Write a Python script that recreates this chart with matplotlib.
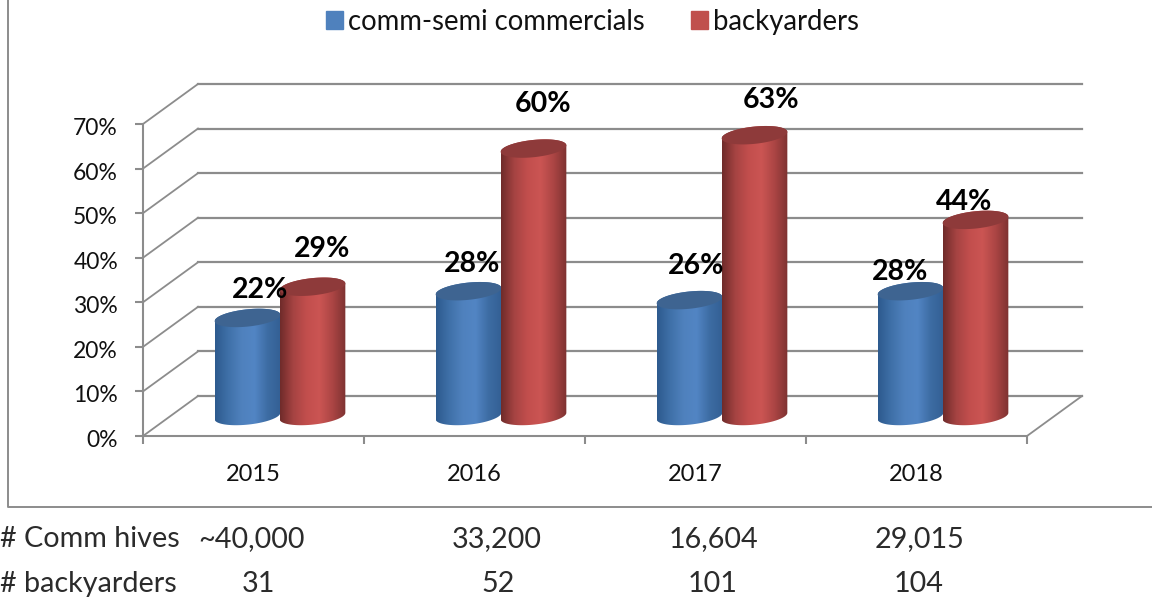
import numpy as np
import matplotlib
matplotlib.use('Agg')
import matplotlib.pyplot as plt
from matplotlib.colors import LinearSegmentedColormap
from matplotlib.lines import Line2D
from matplotlib.patches import Patch, PathPatch, Polygon
from matplotlib.path import Path
from matplotlib.transforms import ScaledTranslation

plt.rcParams['font.family'] = ['Lato', 'DejaVu Sans']

years = ['2015', '2016', '2017', '2018']
commercials = [22, 28, 26, 28]
backyarders = [29, 60, 63, 44]
comm_hives = ['~40,000', '33,200', '16,604', '29,015']
backyarder_counts = ['31', '52', '101', '104']
yticks = [0, 10, 20, 30, 40, 50, 60, 70]

W, H = 1152, 598
GREY = '#8c8c8c'
# axes box in pixels, y measured from the top
LEFT, RIGHT, TOP, BOTTOM = 143, 1027, 124, 436
PX_X = (RIGHT - LEFT) / 4.0
PX_Y = (BOTTOM - TOP) / 70.0
# depth of the fake 3d box
DEPTH_X = 55 / PX_X
DEPTH_Y = 40 / PX_Y

fig = plt.figure(figsize=(W / 100, H / 100), dpi=100)
ax = fig.add_axes([LEFT / W, 1 - BOTTOM / H, (RIGHT - LEFT) / W, (BOTTOM - TOP) / H])
ax.set_xlim(0, 4)
ax.set_ylim(0, 70)

for s in ['top', 'right']:
    ax.spines[s].set_visible(False)
for s in ['left', 'bottom']:
    ax.spines[s].set_color(GREY)
    ax.spines[s].set_linewidth(1.5)
ax.set_yticks(yticks)
ax.set_yticklabels(['%d%%' % v for v in yticks], fontsize=16.5, color='#111111')
ax.set_xticks(range(5))
ax.set_xticklabels([])
ax.set_xticks(np.arange(4) + 0.5, minor=True)
ax.set_xticklabels(years, minor=True, fontsize=17, color='#111111')
ax.tick_params(axis='both', which='major', length=6, width=1.5, color=GREY)
ax.tick_params(axis='x', which='minor', length=0, pad=20)
ax.tick_params(axis='y', pad=12)
# y labels sit a touch lower than the default centring
nudge = ScaledTranslation(0, -2.5 / 100, fig.dpi_scale_trans)
for lab in ax.get_yticklabels():
    lab.set_transform(lab.get_transform() + nudge)

# back wall lines and the diagonals on the side wall
for v in yticks:
    ax.plot([DEPTH_X, 4 + DEPTH_X], [v + DEPTH_Y] * 2, color=GREY, lw=1.6, clip_on=False, zorder=1)
    ax.plot([0, DEPTH_X], [v, v + DEPTH_Y], color=GREY, lw=1.3, clip_on=False, zorder=1)
ax.plot([4, 4 + DEPTH_X], [0, DEPTH_Y], color=GREY, lw=1.3, clip_on=False, zorder=1)

blue_cmap = LinearSegmentedColormap.from_list('b', ['#2d5a8e', '#3f70a8', '#4f81bd', '#5285c4', '#3d6ca3', '#335f94'])
red_cmap = LinearSegmentedColormap.from_list('r', ['#6f2b2a', '#a54342', '#c24e4d', '#cb5553', '#ab4544', '#7d3231'])
gradient = np.linspace(0, 1, 256).reshape(1, -1)


def ellipse(cx, cy, a, b, tilt, t):
    # points of a tilted ellipse, offsets worked out in pixels then put back in data units
    xo = a * np.cos(t) * np.cos(tilt) - b * np.sin(t) * np.sin(tilt)
    yo = a * np.cos(t) * np.sin(tilt) + b * np.sin(t) * np.cos(tilt)
    return np.column_stack([cx + xo / PX_X, cy + yo / PX_Y])


def cylinder(cx, value, cmap, top_color, z):
    a, b, tilt = 33.0, 8.6, np.radians(6)
    base = DEPTH_Y / 2
    top = base + value
    t0 = np.arctan(-(b / a) * np.tan(tilt))
    upper = ellipse(cx, top, a, b, tilt, np.linspace(t0, t0 + np.pi, 60))
    lower = ellipse(cx, base, a, b, tilt, np.linspace(t0 + np.pi, t0 + 2 * np.pi, 60))
    body = Polygon(np.vstack([upper, lower]), closed=True, facecolor='none', edgecolor='none',
                   transform=ax.transData, clip_on=False)
    ax.add_patch(body)
    half = a / PX_X
    im = ax.imshow(gradient, cmap=cmap, aspect='auto', zorder=z,
                   extent=[cx - half, cx + half, base - 12 / PX_Y, top + 12 / PX_Y])
    im.set_clip_path(body)
    cap = ellipse(cx, top, a, b, tilt, np.linspace(0, 2 * np.pi, 120))
    ax.add_patch(PathPatch(Path(cap, closed=False), facecolor=top_color, edgecolor='none',
                           clip_on=False, zorder=z + 0.1))


bar_w = 65 / PX_X
shift = 1 / PX_X
for i in range(len(years)):
    center = i + 0.5 + DEPTH_X / 2 - shift
    cylinder(center - bar_w / 2, commercials[i], blue_cmap, '#3e6491', 3)
    cylinder(center + bar_w / 2, backyarders[i], red_cmap, '#8e3a3a', 4)

ax.set_xlim(0, 4)
ax.set_ylim(0, 70)

# value labels sit by hand above each cylinder, offsets in points
comm_offsets = [(8, 20), (2, 19.5), (4, 24.5), (-8, 14)]
back_offsets = [(6, 27), (6, 32), (11, 25.5), (-9, 13)]
for i in range(len(years)):
    center = i + 0.5 + DEPTH_X / 2
    for val, sign, off in [(commercials[i], -1, comm_offsets[i]), (backyarders[i], 1, back_offsets[i])]:
        ax.annotate('%d%%' % val, (center + sign * bar_w / 2, val + DEPTH_Y / 2), xytext=off,
                    textcoords='offset points', ha='center', va='center', fontsize=20.5,
                    fontweight='bold', color='black', zorder=10, annotation_clip=False)

# outer frame of the embedded chart
fig.add_artist(Line2D([8 / W, 8 / W, 1], [1, 1 - 507 / H, 1 - 507 / H], color=GREY, lw=1.4))

fig.legend(handles=[Patch(color='#4f81bd', label='comm-semi commercials'),
                    Patch(color='#c0504d', label='backyarders')],
           ncol=2, loc='center', bbox_to_anchor=(592.5 / W, 1 - 22 / H), frameon=False,
           fontsize=19.8, handlelength=0.62, handleheight=0.62, handletextpad=0.19, columnspacing=1.67,
           labelcolor='#111111')

# small table under the chart
table_x = [252, 497, 713, 919]
count_x = [258, 498, 713, 919]
fig.text(0, 1 - 539 / H, '# Comm hives', fontsize=20.7, color='#2b2b2b', va='center')
fig.text(0, 1 - 584 / H, '# backyarders', fontsize=20.7, color='#2b2b2b', va='center')
for i in range(4):
    fig.text(table_x[i] / W, 1 - 539 / H, comm_hives[i], fontsize=20.7, color='#2b2b2b', ha='center', va='center')
    fig.text(count_x[i] / W, 1 - 584 / H, backyarder_counts[i], fontsize=20.7, color='#2b2b2b', ha='center', va='center')

fig.savefig('out.png', dpi=100)
